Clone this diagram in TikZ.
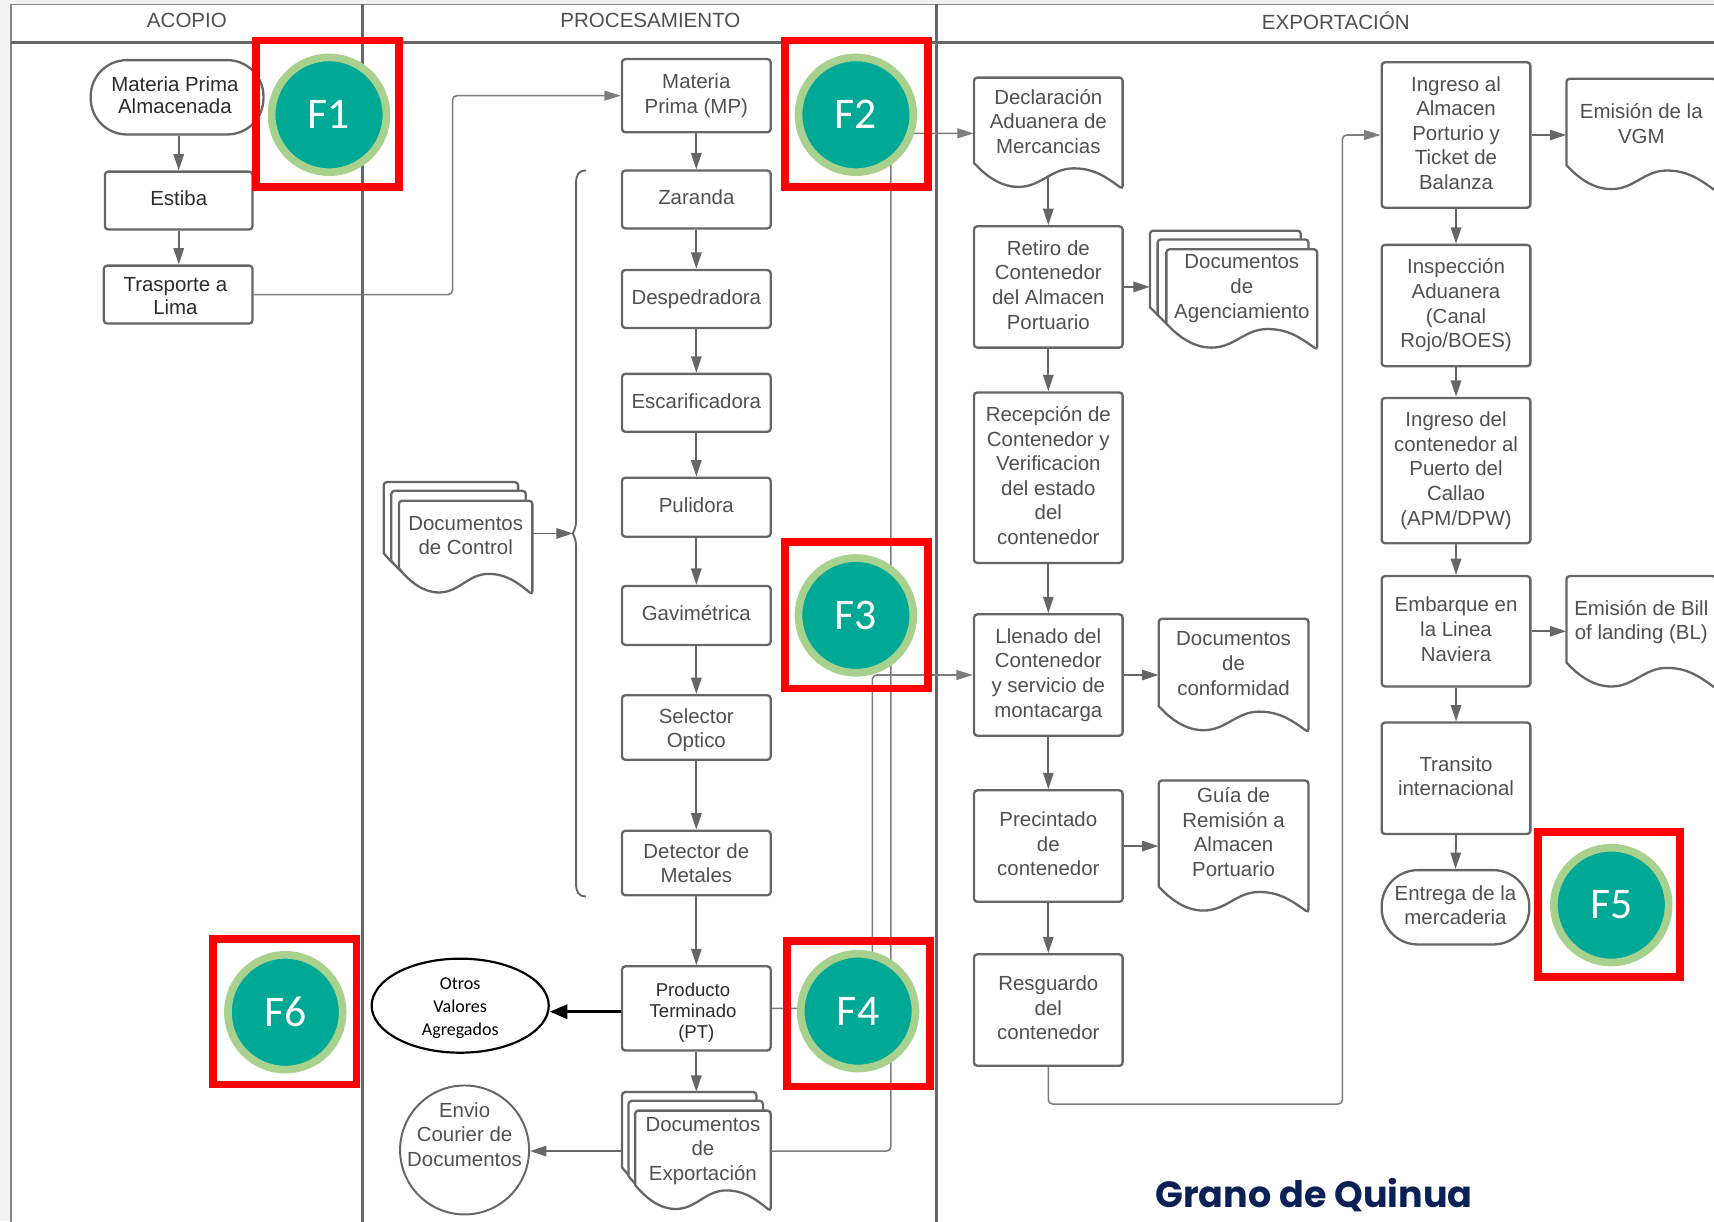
\documentclass[tikz,border=0pt]{standalone}
\usepackage{fontspec}
\setmainfont{Liberation Sans}
\newfontfamily\carl{Carlito}
\newfontfamily\pop{Poppins}
\usetikzlibrary{arrows.meta,shapes.geometric,calc}
\definecolor{ln}{HTML}{666666}
\definecolor{tx}{HTML}{505050}
\definecolor{dk}{HTML}{2C2C2C}
\definecolor{teal}{HTML}{00A896}
\definecolor{ring}{HTML}{A9D18E}
\definecolor{navy}{HTML}{0B2155}
\tikzset{
  x=1pt,y=-1pt,
  boxbase/.style={draw=ln,fill=white,line width=2.1pt,inner sep=0pt,align=center,text=tx,
    font=\fontsize{18.7}{22.5}\selectfont},
  flowbx/.style={boxbase,rounded corners=3pt},
  stadium/.style={boxbase,rounded corners=33pt},
  doctext/.style={inner sep=0pt,align=center,text=tx,font=\fontsize{18.7}{22.5}\selectfont},
  docline/.style={draw=ln,fill=white,line width=2.1pt,rounded corners=3pt},
  flow/.style={draw=ln,line width=1.7pt,-{Triangle[length=15pt,width=9.5pt]}},
  longflow/.style={draw=ln!85,line width=1.4pt,rounded corners=4pt,-{Triangle[length=15pt,width=9pt]}},
  lane/.style={draw=ln,line width=2.6pt},
  lanehead/.style={text=tx,inner sep=0pt,font=\fontsize{18.8}{20}\selectfont},
  redmark/.style={draw=red,line width=7pt},
  fmark/.style={circle,draw=ring,fill=teal,line width=7pt,minimum size=105pt,inner sep=0pt,text=white,
    font=\carl\fontsize{40}{44}\selectfont},
}
% every box text is raised 2 units: an empty line of 4 units is set below it
\newcommand{\flownode}[7][flowbx]{%
  \pgfmathsetmacro{\cx}{(#3+#5)/2}\pgfmathsetmacro{\cy}{(#4+#6)/2}%
  \pgfmathsetmacro{\ww}{#5-#3}\pgfmathsetmacro{\hh}{#6-#4}%
  \node[#1,minimum width=\ww pt,minimum height=\hh pt] (#2) at (\cx,\cy) {#7\\[-18.5pt]\mbox{}};}
\newcommand{\docshape}[4]{%
  \draw[docline] (#1,{#4-24}) -- (#1,#2) -- (#3,#2) -- (#3,#4)
   [sharp corners] .. controls ({#3-.12*(#3-#1)},{#4-12}) and ({#3-.2*(#3-#1)},{#4-19}) .. ({#3-.33*(#3-#1)},{#4-19})
   .. controls ({#3-.48*(#3-#1)},{#4-19}) and ({#3-.55*(#3-#1)},{#4-2}) .. ({#3-.7*(#3-#1)},{#4-2})
   .. controls ({#3-.82*(#3-#1)},{#4-2}) and ({#1+.08*(#3-#1)},{#4-12}) .. (#1,{#4-24}) -- cycle;}
% name x1 y1 x2 y2 textcentre text
\newcommand{\docnode}[7]{%
  \docshape{#2}{#3}{#4}{#5}%
  \pgfmathsetmacro{\cx}{(#2+#4)/2}\pgfmathsetmacro{\ww}{#4-#2}\pgfmathsetmacro{\hh}{2*(#6-#3)}%
  \node[doctext,minimum width=\ww pt,minimum height=\hh pt] (#1) at (\cx,#6) {#7};}
\begin{document}
\begin{tikzpicture}
\clip (0,0) rectangle (1568,1117);
\fill[black!5] (0,0) rectangle (1568,1117);
\fill[white] (10,4) rectangle (1580,1130);
% lanes
\draw[draw=ln!80,line width=1.2pt] (10,1130) -- (10,4) -- (1580,4);
\draw[lane,line width=3pt] (10,39) -- (1580,39);
\draw[lane] (332,4) -- (332,1130);
\draw[lane] (857,4) -- (857,1130);
\node[lanehead] (h1) at (171,19) {ACOPIO};
\node[lanehead] (h2) at (595,19) {PROCESAMIENTO};
\node[lanehead] (h3) at (1222,19) {EXPORTACIÓN};
% acopio
\flownode[stadium,text=dk]{mpa}{83}{55}{241}{123}{Materia Prima\kern4pt\\[-1.5pt]Almacenada\kern4pt}
\flownode[flowbx,text=dk]{est}{96}{157}{231}{210}{Estiba}
\flownode[flowbx,text=dk]{tra}{95}{243}{231}{296}{\mbox{}\\[-2.5pt]Trasporte a\kern5pt\\[-1.5pt]Lima\kern5pt}
% procesamiento
\flownode{mp}{569}{54}{705}{121}{Materia\\Prima (MP)}
\flownode{zar}{569}{156}{705}{209}{Zaranda}
\flownode{des}{569}{247}{705}{300}{Despedradora}
\flownode{esc}{569}{342}{705}{395}{Escarificadora}
\flownode{pul}{569}{437}{705}{491}{Pulidora}
\flownode{gav}{569}{536}{705}{590}{Gavimétrica}
\flownode{sel}{569}{636}{705}{695}{\mbox{}\\[-3.5pt]Selector\\Optico}
\flownode{det}{569}{760}{705}{819}{\mbox{}\\[-4.5pt]Detector de\\Metales}
\flownode[flowbx,text=dk,font=\fontsize{17}{19}\selectfont]{pt}{569}{884}{705}{961}{\mbox{}\\[-2pt]Producto\kern6pt\\Terminado\kern6pt\\(PT)}
\node[ellipse,draw=black,fill=white,line width=2pt,minimum width=162pt,minimum height=82pt,inner sep=0pt,align=center,
  font=\carl\fontsize{16.5}{21}\selectfont] (otros) at (421,920) {\mbox{}\\[-5pt]Otros\\Valores\\Agregados};
\node[circle,draw=ln,fill=white,line width=1.8pt,minimum size=118pt,inner sep=0pt,text=tx,font=\fontsize{18.7}{22.5}\selectfont] (env) at (425,1052)
  {\raisebox{10pt}[0pt][0pt]{\parbox{118pt}{\centering Envio\\Courier de\\Documentos}}};
% stacks
\docshape{351}{441}{474}{530}\docshape{358}{449}{481}{537}
\docnode{ctrl}{365}{458}{487}{544}{490}{Documentos\\de Control}
\docshape{569}{999}{692}{1092}\docshape{575}{1007}{698}{1100}
\docnode{exp}{581}{1016}{705}{1108}{1053}{Documentos\\de\\Exportación}
\docshape{1052}{211}{1190}{305}\docshape{1059}{219}{1197}{312}
\docnode{age}{1067}{228}{1205}{320}{264}{Documentos\\de\\Agenciamiento}
% exportacion
\docnode{dec}{891}{71}{1027}{173}{111}{Declaración\\Aduanera de\\Mercancias}
\flownode{ret}{891}{207}{1027}{318}{Retiro de\\Contenedor\\del Almacen\\Portuario}
\flownode{rec}{891}{359}{1027}{515}{Recepción de\\Contenedor y\\Verificacion\\del estado\\del\\contenedor}
\flownode{lle}{891}{562}{1027}{673}{Llenado del\\Contenedor\\y servicio de\\montacarga}
\flownode{pre}{891}{723}{1027}{825}{Precintado\\de\\contenedor}
\flownode{res}{891}{873}{1027}{975}{Resguardo\\del\\contenedor}
\docnode{con}{1060}{566}{1197}{670}{607}{Documentos\\de\\conformidad}
\docnode{gui}{1060}{714}{1197}{835}{761}{Guía de\\Remisión a\\Almacen\\Portuario}
\flownode{ing}{1264}{57}{1400}{190}{Ingreso al\\Almacen\\Porturio y\\Ticket de\\Balanza}
\docnode{vgm}{1433}{72}{1570}{175}{113}{Emisión de la\\VGM}
\flownode{ins}{1264}{224}{1400}{335}{Inspección\\Aduanera\\(Canal\\Rojo/BOES)}
\flownode{pue}{1264}{364}{1400}{497}{Ingreso del\\contenedor al\\Puerto del\\Callao\\(APM/DPW)}
\flownode{emb}{1264}{527}{1400}{628}{Embarque en\\la Linea\\Naviera}
\docnode{bil}{1433}{527}{1570}{630}{569}{Emisión de Bill\\of landing (BL)}
\flownode{tri}{1264}{661}{1400}{763}{Transito\\internacional}
\flownode[stadium]{ent}{1264}{796}{1399}{864}{Entrega de la\\mercaderia}
% junction coordinates
\coordinate (j1) at (414,175);
\coordinate (j2) at (798,770);
\coordinate (j3) at (815,600);
\coordinate (j4) at (1228,1010);
\coordinate (brace) at (524,488);
% brace
\draw[draw=ln,line width=1.7pt] (536,156) .. controls (529,156) and (527,160) .. (527,168) -- (527,476)
  .. controls (527,484) and (524,487) .. (brace) .. controls (524,489) and (527,492) .. (527,500) -- (527,808)
  .. controls (527,816) and (529,820) .. (536,820);
% connectors
\foreach \a/\b in {mp/zar,zar/des,des/esc,esc/pul,pul/gav,gav/sel,sel/det,det/pt,ing/ins,ins/pue,pue/emb,emb/tri,tri/ent,ret/rec,rec/lle,lle/pre,pre/res}
  \draw[flow] (\a.south) -- (\b.north);
\draw[flow] ([yshift=-10pt]dec.south) -- (ret.north);
\draw[flow] (mpa.south -| est.north) -- (est.north);
\draw[flow] (est.south) -- (est.south |- tra.north);
\draw[flow] (pt.south) -- (pt.south |- {$(exp.north)+(0,-17)$});
\draw[longflow] (tra.east) -| (j1) |- (mp.west);
\draw[longflow] (pt.east) -| (j2) |- (lle.west);
\draw[longflow] (exp.east) -| (j3) |- ([yshift=-11pt]dec.west);
\draw[longflow] (res.south) |- (j4) |- (ing.west);
\draw[flow] (ret.east) -- ([xshift=-15pt]ret.east -| age.west);
\draw[flow] (lle.east) -- (lle.east -| con.west);
\draw[flow] (pre.east) -- (pre.east -| gui.west);
\draw[flow] (ing.east) -- (ing.east -| vgm.west);
\draw[flow] (emb.east) -- (emb.east -| bil.west);
\draw[flow] (ctrl.east |- brace) -- (brace);
\draw[flow] ([xshift=-12pt]exp.west) -- (exp.west -| env.east);
\draw[draw=black,line width=2.4pt,-{Triangle[length=16pt,width=13pt]}] ([yshift=-3pt]pt.west) -- ([yshift=-3pt]pt.west -| otros.east);
% markers
\draw[redmark] (234,37) rectangle (365,171);
\draw[redmark] (718,37) rectangle (849,171);
\draw[redmark] (718,496) rectangle (849,630);
\draw[redmark] (720,861) rectangle (851,994);
\draw[redmark] (1407,761) rectangle (1537,894);
\draw[redmark] (195,859) rectangle (326,992);
\node[fmark] (f1) at (301,105) {F1};
\node[fmark] (f2) at (783,105) {F2};
\node[fmark] (f3) at (783,563) {F3};
\node[fmark] (f4) at (785,925) {F4};
\node[fmark] (f5) at (1474,828) {F5};
\node[fmark] (f6) at (261,926) {F6};
\node[text=navy,inner sep=0pt,font=\pop\bfseries\fontsize{33.4}{38}\selectfont] (title) at (1202,1093) {Grano de Quinua};
\end{tikzpicture}
\end{document}
